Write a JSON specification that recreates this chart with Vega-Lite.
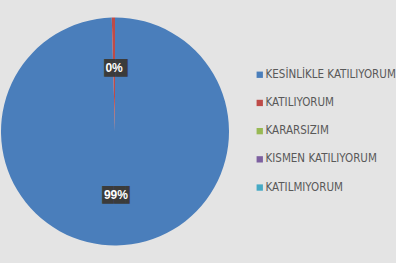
{
  "$schema": "https://vega.github.io/schema/vega-lite/v6.json",
  "width": 230,
  "height": 263,
  "autosize": {"type": "none"},
  "padding": {"left": 0, "top": 0, "right": 166, "bottom": 0},
  "background": "#e4e4e4",
  "config": {"view": {"stroke": null}},
  "data": {
    "values": [
      {"idx": 1, "category": "KESİNLİKLE KATILIYORUM", "value": 99.4, "label": "99%"},
      {"idx": 2, "category": "KATILIYORUM", "value": 0.45, "label": "0%"},
      {"idx": 3, "category": "KARARSIZIM", "value": 0, "label": ""},
      {"idx": 4, "category": "KISMEN KATILIYORUM", "value": 0, "label": ""},
      {"idx": 5, "category": "KATILMIYORUM", "value": 0, "label": ""}
    ]
  },
  "encoding": {
    "theta": {"field": "value", "type": "quantitative", "stack": true},
    "order": {"field": "idx", "type": "quantitative"}
  },
  "layer": [
    {
      "mark": {"type": "arc", "outerRadius": 114},
      "encoding": {
        "color": {
          "field": "category",
          "type": "nominal",
          "sort": ["KESİNLİKLE KATILIYORUM", "KATILIYORUM", "KARARSIZIM", "KISMEN KATILIYORUM", "KATILMIYORUM"],
          "scale": {
            "domain": ["KESİNLİKLE KATILIYORUM", "KATILIYORUM", "KARARSIZIM", "KISMEN KATILIYORUM", "KATILMIYORUM"],
            "range": ["#4a7ebb", "#be4b48", "#98b954", "#7d60a0", "#46aac5"]
          },
          "legend": {
            "title": null,
            "orient": "none",
            "legendX": 254,
            "legendY": 69,
            "symbolType": "square",
            "symbolSize": 40,
            "symbolStrokeWidth": 0,
            "labelFont": "DejaVu Sans Condensed",
            "labelFontSize": 11.5,
            "labelColor": "#595959",
            "labelOffset": 0,
            "rowPadding": 15.2,
            "labelLimit": 200
          }
        }
      }
    },
    {
      "transform": [{"filter": "datum.idx == 2"}],
      "mark": {"type": "text", "radius": 64, "text": "██", "font": "DejaVu Sans", "fontSize": 15, "color": "#3b3b3b"}
    },
    {
      "transform": [{"filter": "datum.idx == 1"}],
      "mark": {"type": "text", "radius": 64, "text": "██▍", "font": "DejaVu Sans", "fontSize": 15, "dx": 3.75, "color": "#3b3b3b"}
    },
    {
      "transform": [{"filter": "datum.value > 0"}],
      "mark": {"type": "text", "radius": 64, "font": "Liberation Sans", "fontWeight": "bold", "fontSize": 12, "color": "white"},
      "encoding": {"text": {"field": "label"}}
    }
  ]
}
